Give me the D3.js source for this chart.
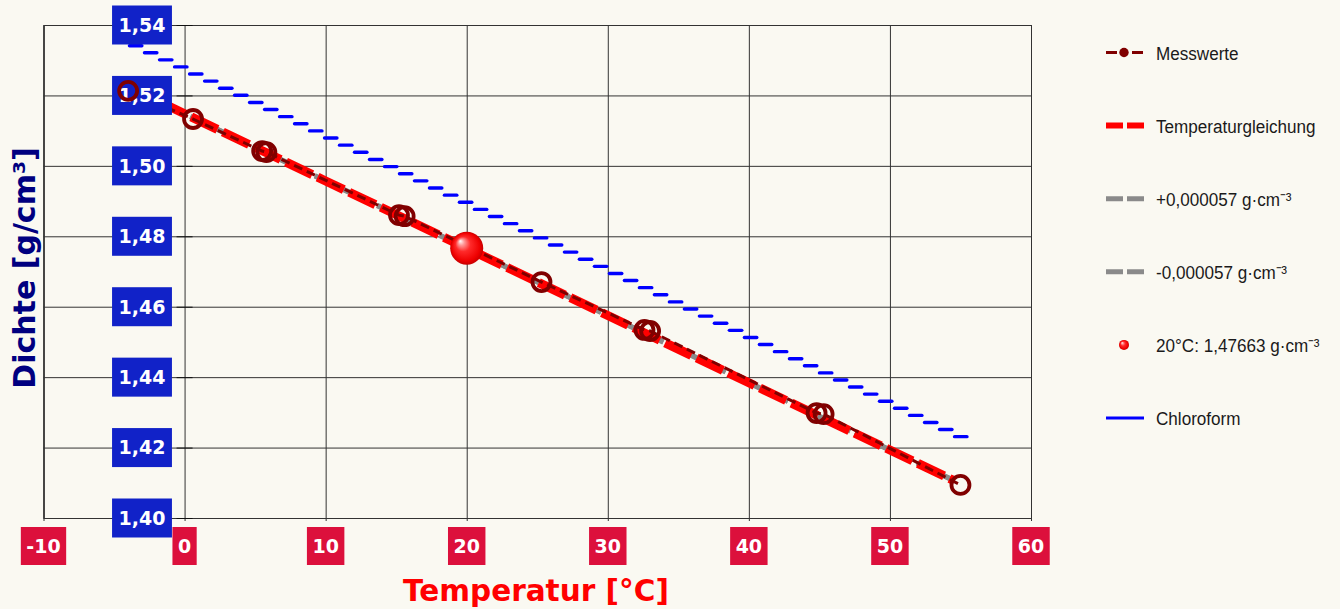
<!DOCTYPE html>
<html><head><meta charset="utf-8">
<script src="https://cdn.jsdelivr.net/npm/d3@7"></script>
<style>html,body{margin:0;padding:0;background:#FAF9F2;} svg{display:block}</style>
</head><body>
<svg id="c" width="1340" height="609"></svg>
<script>
// ---- data ----
const xTicks = [-10, 0, 10, 20, 30, 40, 50, 60];
const yTicks = [1.40, 1.42, 1.44, 1.46, 1.48, 1.50, 1.52, 1.54];

const measT   = [-4.0, 0.6, 5.5, 5.8, 15.2, 15.6, 25.3, 32.6, 33.0, 44.8, 45.3, 55.0];
const measRho = [1.5213, 1.5133, 1.5042, 1.5039, 1.4860, 1.4857, 1.4670, 1.4534, 1.4531, 1.4298, 1.4295, 1.4094];

const eqT     = [-4, 0, 10, 20, 30, 40, 50, 54.5];
const eqRho   = [1.5225, 1.5148, 1.4957, 1.47663, 1.4575, 1.4384, 1.4193, 1.4107];
const eqPlus  = [1.522557, 1.514857, 1.495757, 1.476687, 1.457557, 1.438457, 1.419357, 1.410757];
const eqMinus = [1.522443, 1.514743, 1.495643, 1.476573, 1.457443, 1.438343, 1.419243, 1.410643];

const chlT    = [-4, 0, 10, 20, 30, 40, 50, 55.5];
const chlRho  = [1.5351, 1.5276, 1.5086, 1.4895, 1.4705, 1.4515, 1.4326, 1.4222];

const refT = [20], refRho = [1.47663];

const legendLabels = ["Messwerte", "Temperaturgleichung", "+0,000057 g\u00B7cm\u207B\u00B3",
  "-0,000057 g\u00B7cm\u207B\u00B3", "20\u00B0C: 1,47663 g\u00B7cm\u207B\u00B3", "Chloroform"];

// ---- setup ----
const svg = d3.select("#c");
const x = d3.scaleLinear().domain([-10, 60]).range([43.5, 1031]);
const y = d3.scaleLinear().domain([1.40, 1.54]).range([518, 25]);
const plotH = y(1.40) - y(1.54);

const defs = svg.append("defs");
const rg = defs.append("radialGradient").attr("id", "ball").attr("cx", "50%").attr("cy", "50%").attr("r", "50%")
  .attr("fx", "30%").attr("fy", "28%");
rg.append("stop").attr("offset", "0%").attr("stop-color", "#ffffff");
rg.append("stop").attr("offset", "18%").attr("stop-color", "#ff9a9a");
rg.append("stop").attr("offset", "45%").attr("stop-color", "#ff2a2a");
rg.append("stop").attr("offset", "85%").attr("stop-color", "#ee0000");
rg.append("stop").attr("offset", "100%").attr("stop-color", "#c80000");

// ---- grid via axes ----
const gxGrid = svg.append("g").attr("transform", `translate(0,${y(1.40)})`)
  .call(d3.axisBottom(x).tickValues(xTicks).tickSize(-plotH).tickSizeOuter(0).tickFormat(""));
gxGrid.select(".domain").attr("stroke", "#111").attr("stroke-width", 1.2);
gxGrid.selectAll(".tick line").attr("stroke", "#333").attr("y1", 3);

const gyGrid = svg.append("g").attr("transform", `translate(${x(-10)},0)`)
  .call(d3.axisLeft(y).tickValues(yTicks).tickSize(-(x(60) - x(-10))).tickSizeOuter(0).tickFormat(""));
gyGrid.select(".domain").attr("stroke", "#111").attr("stroke-width", 1.2);
gyGrid.selectAll(".tick line").attr("stroke", "#333");

// short ticks on y axis at x=0
svg.append("g").attr("transform", `translate(${x(0)},0)`)
  .call(d3.axisRight(y).tickValues(yTicks).tickSize(8).tickFormat(""))
  .call(g => { g.select(".domain").remove(); g.selectAll(".tick line").attr("x1", -8).attr("stroke", "#111"); });

// ---- lines ----
const line = d3.line().x(d => x(d[0])).y(d => y(d[1]));
const zip = (a, b) => a.map((v, i) => [v, b[i]]);

// Chloroform: rendered as horizontal dash strokes following the line path
const chlPath = svg.append("path").datum(zip(chlT, chlRho)).attr("d", line)
  .attr("fill", "none").attr("stroke", "none");
const chlNode = chlPath.node();
const L = chlNode.getTotalLength();
const dashPos = d3.range(8.3, L, 16.6).map(s => chlNode.getPointAtLength(s));
svg.append("g").selectAll("line").data(dashPos).join("line")
  .attr("x1", p => p.x - 6.2).attr("x2", p => p.x + 6.2)
  .attr("y1", p => p.y).attr("y2", p => p.y)
  .attr("stroke", "#0000ff").attr("stroke-width", 3.4).attr("stroke-linecap", "round");

[eqPlus, eqMinus].forEach(arr => {
  svg.append("path").datum(zip(eqT, arr)).attr("d", line)
    .attr("fill", "none").attr("stroke", "#8a8a8a").attr("stroke-width", 5).attr("stroke-dasharray", "18,5");
});

svg.append("path").datum(zip(eqT, eqRho)).attr("d", line)
  .attr("fill", "none").attr("stroke", "#ff0000").attr("stroke-width", 9).attr("stroke-dasharray", "29,6");

svg.append("path").datum(zip(measT, measRho)).attr("d", line)
  .attr("fill", "none").attr("stroke", "#800000").attr("stroke-width", 3).attr("stroke-dasharray", "9,5");

// ---- tick label boxes ----
const lblFont = "bold 19px 'DejaVu Sans', Verdana, sans-serif";
const fmtY = d => d3.format(".2f")(d).replace(".", ",");

const yl = svg.append("g");
yTicks.forEach(t => {
  const g = yl.append("g").attr("transform", `translate(142,${y(t)})`);
  const r = g.append("rect").attr("fill", "#1122c8");
  const tx = g.append("text").text(fmtY(t)).attr("fill", "#fff").style("font", lblFont)
    .attr("text-anchor", "middle").attr("dy", "0.36em");
  const w = tx.node().getComputedTextLength() + 13;
  r.attr("x", -w / 2).attr("y", -19.5).attr("width", w).attr("height", 39);
});

const xl = svg.append("g");
xTicks.forEach(t => {
  const g = xl.append("g").attr("transform", `translate(${x(t)},546)`);
  const r = g.append("rect").attr("fill", "#dc103c");
  const tx = g.append("text").text(t).attr("fill", "#fff").style("font", lblFont)
    .attr("text-anchor", "middle").attr("dy", "0.36em");
  const w = tx.node().getComputedTextLength() + 11;
  r.attr("x", -w / 2).attr("y", -19).attr("width", w).attr("height", 38);
});

// ---- points ----
svg.append("g").selectAll("circle").data(zip(measT, measRho)).join("circle")
  .attr("cx", d => x(d[0])).attr("cy", d => y(d[1])).attr("r", 9)
  .attr("fill", "none").attr("stroke", "#800000").attr("stroke-width", 3.8);

svg.append("g").selectAll("circle").data(zip(refT, refRho)).join("circle")
  .attr("cx", d => x(d[0])).attr("cy", d => y(d[1])).attr("r", 16.5).attr("fill", "url(#ball)");

// ---- axis titles ----
svg.append("text").text("Temperatur [\u00B0C]").attr("x", 536).attr("y", 601)
  .attr("text-anchor", "middle").attr("fill", "#ff0000")
  .style("font", "bold 29.5px 'DejaVu Sans', Verdana, sans-serif");
svg.append("text").text("Dichte [g/cm\u00B3]").attr("transform", "translate(35,268) rotate(-90)")
  .attr("text-anchor", "middle").attr("fill", "#000080")
  .style("font", "bold 30px 'DejaVu Sans', Verdana, sans-serif");

// ---- legend ----
const lg = svg.append("g");
legendLabels.forEach((lab, i) => {
  const cy = 52.5 + i * 73.1;
  const g = lg.append("g").attr("transform", `translate(0,${cy})`);
  if (i === 0) {
    g.append("line").attr("x1", 1106).attr("x2", 1117).attr("stroke", "#800000").attr("stroke-width", 3);
    g.append("line").attr("x1", 1132).attr("x2", 1143).attr("stroke", "#800000").attr("stroke-width", 3);
    g.append("circle").attr("cx", 1124).attr("r", 4.7).attr("fill", "#800000");
  } else if (i === 1) {
    g.append("line").attr("x1", 1106).attr("x2", 1144).attr("stroke", "#ff0000").attr("stroke-width", 6).attr("stroke-dasharray", "17,4");
  } else if (i === 2 || i === 3) {
    g.append("line").attr("x1", 1106).attr("x2", 1144).attr("stroke", "#8a8a8a").attr("stroke-width", 5).attr("stroke-dasharray", "17,4");
  } else if (i === 4) {
    g.append("circle").attr("cx", 1124).attr("r", 5).attr("fill", "url(#ball)");
  } else {
    g.append("line").attr("x1", 1106).attr("x2", 1144).attr("stroke", "#0000ff").attr("stroke-width", 3);
  }
  g.append("text").text(lab).attr("transform", "translate(1156,7) scale(0.9,1)")
    .attr("fill", "#1a1a1a").style("font", "19px 'Liberation Sans', Arial, sans-serif");
});
</script>
</body></html>
